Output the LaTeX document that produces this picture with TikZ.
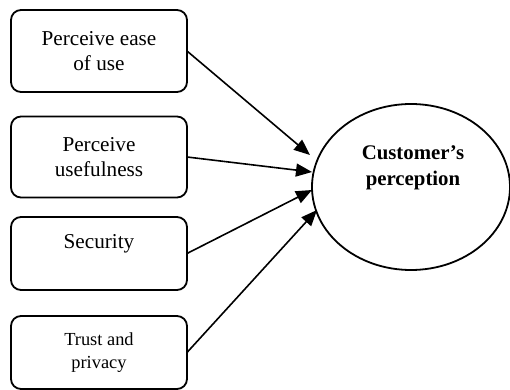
\documentclass[tikz,border=0pt]{standalone}
\usepackage{fontspec}
\setmainfont{Liberation Serif}
\usetikzlibrary{arrows.meta,shapes.geometric}
\begin{document}
\begin{tikzpicture}[x=0.5pt,y=-0.5pt,
  factor/.style={draw,line width=0.9pt,rounded corners=5pt,minimum width=88pt,
    inner sep=0pt,outer sep=0pt,align=center,font=\fontsize{10.6}{12.5}\selectfont},
  link/.style={line width=0.8pt,-{Triangle[length=8pt,width=6.5pt]}}]
\useasboundingbox (0,0) rectangle (510,390);
% input factors
\node[factor,minimum height=41pt] (b1) at (99,51) {Perceive ease\\of use};
\node[factor,minimum height=40.5pt] (b2) at (99,157) {Perceive\\usefulness};
\node[factor,minimum height=36.5pt] (b3) at (99,253.5) {Security\\\mbox{}};
\node[factor,minimum height=36.5pt,font=\fontsize{9.2}{11.5}\selectfont] (b4) at (99,352.5) {Trust and\\privacy};
% outcome
\node[draw,ellipse,line width=0.9pt,minimum width=99pt,minimum height=83pt,inner sep=0pt] (cp) at (411,187) {};
\node[align=center,font=\bfseries\fontsize{10.4}{13}\selectfont] (cpt) at (413,168) {Customer’s\\perception};
% arrow tips
\coordinate (t1) at (310,155);
\coordinate (t2) at (312,172);
\coordinate (t3) at (312,190);
\coordinate (t4) at (317,210);
\draw[link] (b1.east) -- (t1);
\draw[link] (b2.east) -- (t2);
\draw[link] (b3.east) -- (t3);
\draw[link] (b4.east) -- (t4);
\end{tikzpicture}
\end{document}
